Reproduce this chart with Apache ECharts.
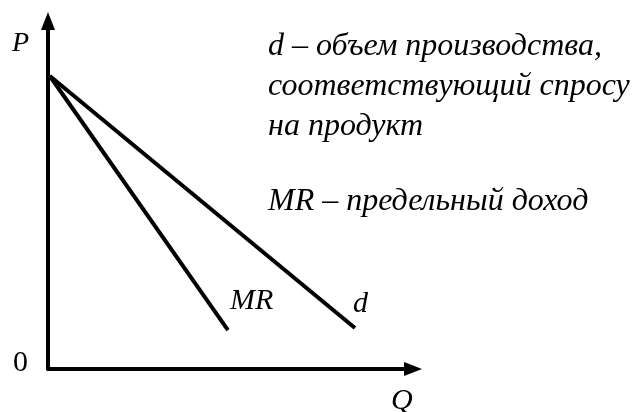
<!DOCTYPE html>
<html>
<head>
<meta charset="utf-8">
<script src="https://cdn.jsdelivr.net/npm/echarts@6/dist/echarts.min.js"></script>
<style>
  html, body { margin: 0; padding: 0; background: #fff; }
  #chart { width: 635px; height: 412px; }
</style>
</head>
<body>
<div id="chart"></div>
<script>
// линии: спрос d и предельный доход MR (Q, P в условных единицах 0..100)
var demandLine = [[0.5, 84.2], [84.1, 11.8]];
var mrLine = [[0.5, 84.2], [49.3, 11.2]];
var legendLines = [
    'd – объем производства,',
    'соответствующий спросу',
    'на продукт'
];
var legendMR = 'MR – предельный доход';

var serif = '"Liberation Serif", "Times New Roman", serif';

var txt = function(x, y, text, size, italic){
    return {
        type: 'text',
        left: x,
        top: y,
        style: {
            text: text,
            fill: '#000',
            font: (italic ? 'italic ' : '') + size + 'px ' + serif
        }
    };
};

var axisStyle = {
    show: true,
    symbol: ['none', 'triangle'],
    symbolSize: [14, 18],
    lineStyle: { color: '#000', width: 4 }
};

var option = {
    animation: false,
    backgroundColor: '#fff',
    grid: {
        left: 48,
        right: 222,
        top: 21,
        bottom: 43,
        outerBoundsMode: 'none'
    },
    xAxis: {
        type: 'value',
        min: 0,
        max: 100,
        axisLine: axisStyle,
        axisTick: { show: false },
        axisLabel: { show: false },
        splitLine: { show: false }
    },
    yAxis: {
        type: 'value',
        min: 0,
        max: 100,
        axisLine: axisStyle,
        axisTick: { show: false },
        axisLabel: { show: false },
        splitLine: { show: false }
    },
    series: [
        {
            name: 'd',
            type: 'line',
            data: demandLine,
            symbol: 'none',
            lineStyle: { color: '#000', width: 4, cap: 'butt' }
        },
        {
            name: 'MR',
            type: 'line',
            data: mrLine,
            symbol: 'none',
            lineStyle: { color: '#000', width: 4, cap: 'butt' }
        }
    ],
    graphic: [
        txt(12, 30, 'P', 28, true),
        txt(13, 348, '0', 30, false),
        txt(391, 386, 'Q', 30, true),
        txt(230, 286, 'MR', 30, true),
        txt(353, 289, 'd', 30, true),
        txt(268, 31, legendLines[0], 32, true),
        txt(268, 71, legendLines[1], 32, true),
        txt(268, 111, legendLines[2], 32, true),
        txt(268, 186, legendMR, 32, true)
    ]
};

var myChart = echarts.init(document.getElementById('chart'));
myChart.setOption(option);
</script>
</body>
</html>
